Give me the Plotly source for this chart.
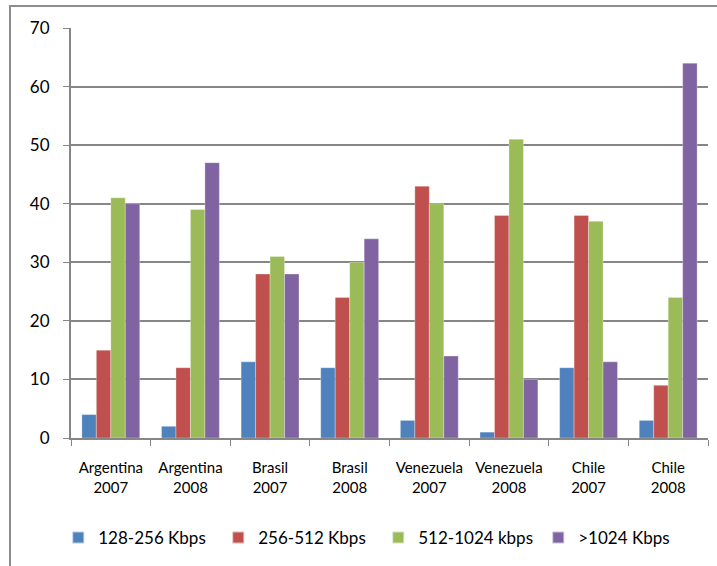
import plotly.graph_objects as go

categories = ["Argentina<br>2007", "Argentina<br>2008", "Brasil<br>2007", "Brasil<br>2008",
              "Venezuela<br>2007", "Venezuela<br>2008", "Chile<br>2007", "Chile<br>2008"]
series_names = ["128-256 Kbps", "256-512 Kbps", "512-1024 kbps", ">1024 Kbps"]
s_128_256 = [4, 2, 13, 12, 3, 1, 12, 3]
s_256_512 = [15, 12, 28, 24, 43, 38, 38, 9]
s_512_1024 = [41, 39, 31, 30, 40, 51, 37, 24]
s_over_1024 = [40, 47, 28, 34, 14, 10, 13, 64]
colors = ["#4F81BD", "#C0504D", "#9BBB59", "#8064A2"]
y_ticks = [0, 10, 20, 30, 40, 50, 60, 70]

FONT = "Lato, Noto Sans, sans-serif"

fig = go.Figure()
for name, vals, col in zip(series_names, [s_128_256, s_256_512, s_512_1024, s_over_1024], colors):
    fig.add_trace(go.Bar(x=categories, y=vals, name=name,
                         marker=dict(color=col, line=dict(color="rgba(255,255,255,0.6)", width=0.5))))

W, H = 717, 566
L, R, T, B = 71, 9, 28, 128
pw, ph = W - L - R, H - T - B

fig.update_layout(
    width=W, height=H,
    margin=dict(l=L, r=R, t=T, b=B, autoexpand=False),
    paper_bgcolor="white", plot_bgcolor="white",
    barmode="group", bargap=0.273, bargroupgap=0,
    font=dict(family=FONT, color="#000000"),
    showlegend=True,
    legend=dict(orientation="h", x=-0.02, xanchor="left", y=-0.2, yanchor="top",
                font=dict(size=17, family=FONT), itemwidth=30, tracegroupgap=0,
                entrywidth=115, entrywidthmode="pixels", itemsizing="constant"),
    xaxis=dict(type="category", tickson="boundaries", ticks="outside", ticklen=6,
               tickcolor="#868686", showline=True, linecolor="#868686", linewidth=2,
               tickfont=dict(size=15, family=FONT), showgrid=False,
               ticklabelstandoff=15, automargin=False),
    yaxis=dict(range=[0, 70], tickvals=y_ticks, ticks="outside", ticklen=6,
               tickcolor="#868686", showline=True, linecolor="#868686", linewidth=2,
               gridcolor="#868686", gridwidth=1.5, zeroline=False,
               tickfont=dict(size=17, family=FONT), ticklabelstandoff=10,
               automargin=False),
    shapes=[dict(type="rect", xref="paper", yref="paper",
                 x0=(10 - L) / pw, x1=(W + 20 - L) / pw,
                 y0=-(H + 20 - T - ph) / ph, y1=1 + (T - 6) / ph,
                 line=dict(color="#8C8C8C", width=2), fillcolor="rgba(0,0,0,0)",
                 layer="below")],
)

fig.write_html("out.html")
